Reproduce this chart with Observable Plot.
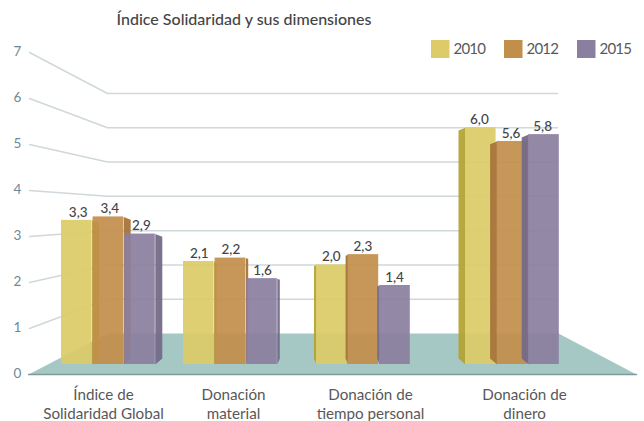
<!DOCTYPE html>
<html><head><meta charset="utf-8">
<script src="https://cdn.jsdelivr.net/npm/d3@7"></script>
<script src="https://cdn.jsdelivr.net/npm/@observablehq/plot@0.6"></script>
<style>html,body{margin:0;padding:0;background:#fff}svg{display:block}.legend-text text{letter-spacing:-0.8px}</style>
</head><body><div id="chart"></div>
<script>
// Data
const categories = ["Índice de\nSolidaridad Global", "Donación\nmaterial", "Donación de\ntiempo personal", "Donación de\ndinero"];
const years = ["2010", "2012", "2015"];
const values2010 = [3.3, 2.1, 2.0, 6.0];
const values2012 = [3.4, 2.2, 2.3, 5.6];
const values2015 = [2.9, 1.6, 1.4, 5.8];
const tickValues = [0, 1, 2, 3, 4, 5, 6, 7];
const series = [values2010, values2012, values2015];

// Layout of the pseudo-3D scene (pixels); the y scale is the one of the back wall
const W = 644, H = 421;
const wallZero = 333, wallStep = 34.29;
const toV = px => (wallZero - px) / wallStep;          // pixel height -> value on the wall scale
const frontBase = toV(364), backBase = toV(358);
const leftEdge = v => toV(374 - 46 * v);               // the axis plane in front of the wall
const floorFront = toV(374);
const groupLeft = [61, 183, 316, 465];
const groupDepth = [7, 2.5, -2.5, -7];
const barStep = 31.6, barW = 30.6;
const labelX = [103, 233, 370, 524];
const colors = ["#dccb68", "#c28f4b", "#8b7f9f"];
const sideColors = ["#b3a336", "#a6743a", "#746a88"];
const gridColor = "#d0d8dc", tickColor = "#6f8896", textColor = "#58585a";
const font = "Lato, sans-serif";

const bars = categories.flatMap((c, g) => years.map((year, s) => {
  const x1 = groupLeft[g] + s * barStep;
  return {g, s, year, value: series[s][g], x1, x2: x1 + barW};
}));
const sidePoints = bars.flatMap(b => {
  const d = groupDepth[b.g], xf = d > 0 ? b.x2 : b.x1, id = `${b.g}-${b.s}`, s = b.s;
  const topBack = b.value - Math.abs(d) * 0.2 / wallStep * 2;
  return [
    {id, s, x: xf, y: b.value}, {id, s, x: xf + d, y: topBack},
    {id, s, x: xf + d, y: backBase}, {id, s, x: xf, y: frontBase}
  ];
});
const gridPoints = tickValues.filter(v => v > 0).flatMap(v => [
  {v, x: 29, y: leftEdge(v)}, {v, x: 107, y: v}, {v, x: 557, y: v}
]);
const floorPoints = [
  {x: 28, y: floorFront}, {x: 107, y: 0}, {x: 558, y: 0}, {x: 636, y: floorFront}
];
const fmt = v => v.toFixed(1).replace(".", ",");

const barMarks = years.flatMap((year, s) => [
  Plot.line(sidePoints.filter(p => p.s === s), {x: "x", y: "y", z: "id", curve: "linear-closed", fill: sideColors[s], stroke: "none", fillOpacity: 0.95}),
  Plot.rect(bars.filter(b => b.s === s), {x1: "x1", x2: "x2", y1: frontBase, y2: "value", fill: colors[s], fillOpacity: 0.93})
]);

const plot = Plot.plot({
  width: W, height: H, margin: 0,
  style: {fontFamily: font, background: "#fff"},
  x: {domain: [0, W], range: [0, W], axis: null},
  y: {domain: [0, 7], range: [wallZero, wallZero - 7 * wallStep], axis: null},
  marks: [
    Plot.line(gridPoints, {x: "x", y: "y", z: "v", stroke: gridColor, strokeWidth: 1.5}),
    Plot.line(floorPoints, {x: "x", y: "y", curve: "linear-closed", fill: "#a6c8c5", stroke: "none"}),
    Plot.line(floorPoints.filter((p, i) => i === 0 || i === 3), {x: "x", y: "y", stroke: "#7f9a9b", strokeWidth: 1.4}),
    ...barMarks,
    Plot.text(bars, {x: b => (b.x1 + b.x2) / 2 + groupDepth[b.g] * 0.2, y: "value", text: b => fmt(b.value), dy: -8, fontSize: 13.5, fontWeight: 500, fill: "#444446"}),
    Plot.text(tickValues, {x: 17, y: v => leftEdge(v), text: d => String(d), fontSize: 13.5, fill: tickColor, dy: -1}),
    Plot.text(categories, {x: (d, i) => labelX[i], y: toV(402.5), text: d => d, fontSize: 15.2, lineHeight: 1.26, fill: textColor}),
    Plot.text(["Índice Solidaridad y sus dimensiones"], {x: 243.5, y: toV(19), text: d => d, fontSize: 16, fontWeight: 500, fill: "#444446"}),
    Plot.rect(years, {x1: (d, i) => 431 + i * 73, x2: (d, i) => 449.5 + i * 73, y1: toV(40), y2: toV(58), fill: (d, i) => colors[i]}),
    Plot.text(years, {x: (d, i) => 453 + i * 73, y: toV(48.5), text: d => d, textAnchor: "start", fontSize: 15, fill: textColor, className: "legend-text"})
  ]
});
document.getElementById("chart").append(plot);
</script></body></html>
